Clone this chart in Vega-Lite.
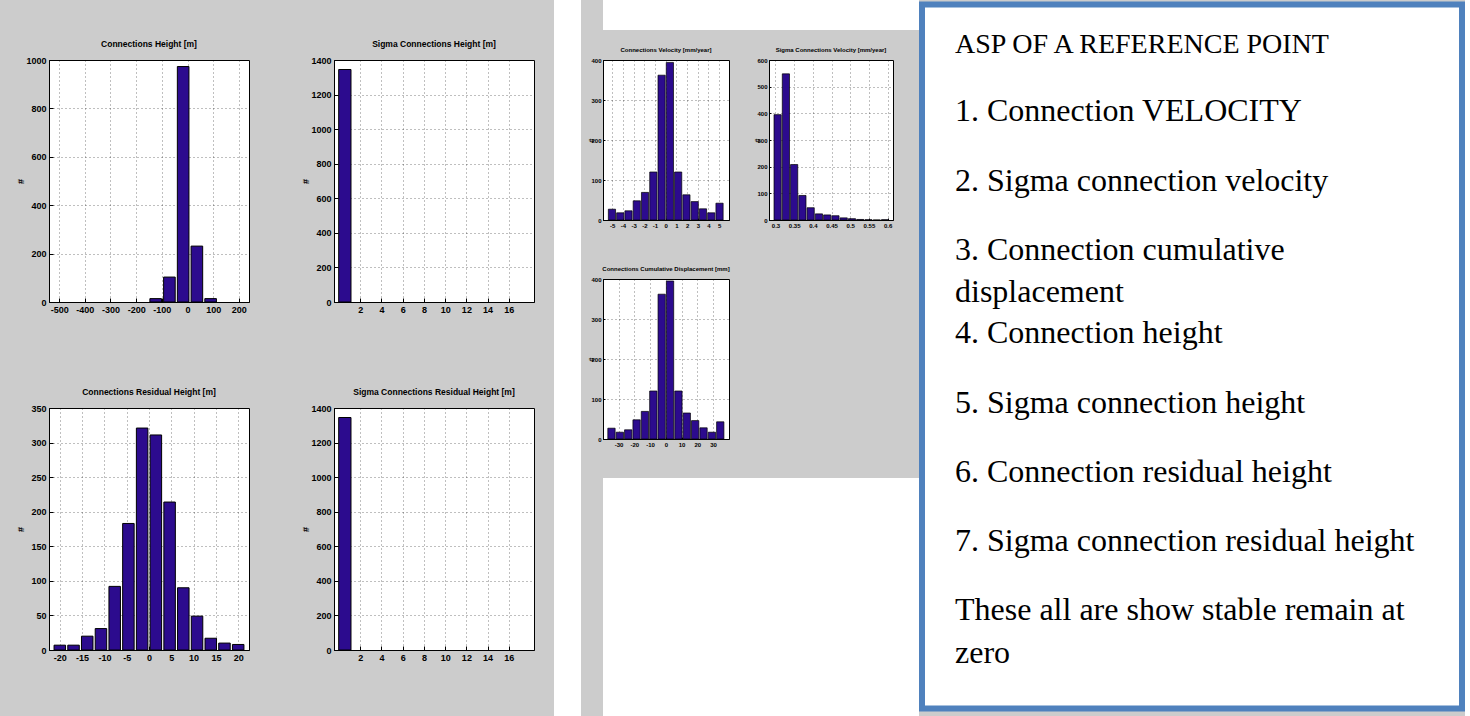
{
  "$schema": "https://vega.github.io/schema/vega-lite/v6.json",
  "background": "#cccccc",
  "padding": {"left": 15, "top": 0, "right": 0, "bottom": 0},
  "config": {
    "locale": {"number": {"decimal": ".", "thousands": ",", "grouping": [3], "currency": ["$", ""], "minus": "-"}},
    "view": {"fill": "white", "stroke": "black", "strokeWidth": 1},
    "axis": {
      "labelFont": "Liberation Sans", "labelFontWeight": "bold", "labelFontSize": 9, "labelColor": "black",
      "titleFont": "Liberation Sans", "titleFontWeight": "bold", "titleFontSize": 9, "titleColor": "black",
      "domainColor": "black", "tickColor": "black", "tickSize": -4, "labelPadding": 7,
      "grid": true, "gridColor": "black", "gridOpacity": 0.5, "gridDash": [1, 3],
      "labelFlush": false, "labelOverlap": false, "titlePadding": 2, "minExtent": 22, "maxExtent": 22
    },
    "title": {
      "font": "Liberation Sans", "fontWeight": "bold", "fontSize": 8.5, "color": "black", "offset": 8, "frame": "group", "anchor": "middle"
    }
  },
  "datasets": {
    "ch": [
      {"c": -124, "n": 14}, {"c": -70.5, "n": 103}, {"c": -17, "n": 973}, {"c": 36.5, "n": 231}, {"c": 90, "n": 14}
    ],
    "sch": [{"c": 0.55, "n": 1345}],
    "crh": [
      {"c": -20, "n": 7}, {"c": -16.92, "n": 7}, {"c": -13.85, "n": 20}, {"c": -10.77, "n": 31},
      {"c": -7.69, "n": 92}, {"c": -4.62, "n": 183}, {"c": -1.54, "n": 321}, {"c": 1.54, "n": 311},
      {"c": 4.62, "n": 214}, {"c": 7.69, "n": 90}, {"c": 10.77, "n": 49}, {"c": 13.85, "n": 17},
      {"c": 16.92, "n": 10}, {"c": 20, "n": 8}
    ],
    "scrh": [{"c": 0.55, "n": 1345}],
    "cv": [
      {"c": -5.03, "n": 27}, {"c": -4.256, "n": 18}, {"c": -3.482, "n": 23}, {"c": -2.708, "n": 48},
      {"c": -1.934, "n": 69}, {"c": -1.16, "n": 120}, {"c": -0.386, "n": 362}, {"c": 0.388, "n": 394},
      {"c": 1.162, "n": 120}, {"c": 1.936, "n": 63}, {"c": 2.71, "n": 46}, {"c": 3.484, "n": 28},
      {"c": 4.258, "n": 18}, {"c": 5.032, "n": 42}
    ],
    "scv": [
      {"c": 0.3057, "n": 395}, {"c": 0.3278, "n": 548}, {"c": 0.3499, "n": 208}, {"c": 0.372, "n": 92},
      {"c": 0.3941, "n": 46}, {"c": 0.4162, "n": 23}, {"c": 0.4383, "n": 19}, {"c": 0.4604, "n": 16},
      {"c": 0.4825, "n": 8}, {"c": 0.5046, "n": 5}, {"c": 0.5267, "n": 2}, {"c": 0.5488, "n": 1},
      {"c": 0.5709, "n": 0}, {"c": 0.593, "n": 1}
    ],
    "ccd": [
      {"c": -34.5, "n": 27}, {"c": -29.19, "n": 17}, {"c": -23.88, "n": 23}, {"c": -18.57, "n": 48},
      {"c": -13.26, "n": 69}, {"c": -7.95, "n": 120}, {"c": -2.64, "n": 362}, {"c": 2.67, "n": 395},
      {"c": 7.98, "n": 120}, {"c": 13.29, "n": 65}, {"c": 18.6, "n": 46}, {"c": 23.91, "n": 28},
      {"c": 29.22, "n": 17}, {"c": 34.53, "n": 43}
    ],
    "notes": [
      {"line": 0, "text": "ASP OF A REFERENCE POINT"},
      {"line": 0.952, "text": "1. Connection VELOCITY"},
      {"line": 1.962, "text": "2. Sigma connection velocity"},
      {"line": 2.958, "text": "3. Connection cumulative"},
      {"line": 3.564, "text": "displacement"},
      {"line": 4.156, "text": "4. Connection height"},
      {"line": 5.166, "text": "5. Sigma connection height"},
      {"line": 6.162, "text": "6. Connection residual height"},
      {"line": 7.157, "text": "7. Sigma connection residual height"},
      {"line": 8.153, "text": "These all are show stable remain at"},
      {"line": 8.773, "text": "zero"}
    ]
  },
  "spacing": 0,
  "center": true,
  "hconcat": [
    {
      "spacing": 5,
      "center": false,
      "hconcat": [
        {
          "spacing": 19,
          "center": false,
          "hconcat": [
            {
              "spacing": 0,
              "vconcat": [
                {"data": {"values": []}, "mark": "point", "width": 1, "height": 39, "view": {"fill": null, "stroke": null}},
                {
                  "spacing": 62,
                  "vconcat": [
                    {
                      "spacing": 50,
                      "hconcat": [
                        {
                          "width": 200, "height": 242,
                          "title": "Connections Height [m]",
                          "data": {"name": "ch"},
                          "mark": {"type": "bar", "width": 11.6, "fill": "#2c0b8e", "stroke": "black", "strokeWidth": 1},
                          "encoding": {
                            "x": {"field": "c", "type": "quantitative", "scale": {"domain": [-520, 220], "nice": false, "zero": false},
                                  "axis": {"values": [-500, -400, -300, -200, -100, 0, 100, 200], "format": "d", "title": null}},
                            "y": {"field": "n", "type": "quantitative", "scale": {"domain": [0, 1000], "nice": false},
                                  "axis": {"values": [0, 200, 400, 600, 800, 1000], "format": "d", "title": "#"}}
                          }
                        },
                        {
                          "width": 200, "height": 242,
                          "title": "Sigma Connections Height [m]",
                          "data": {"name": "sch"},
                          "mark": {"type": "bar", "width": 12.3, "fill": "#2c0b8e", "stroke": "black", "strokeWidth": 1},
                          "encoding": {
                            "x": {"field": "c", "type": "quantitative", "scale": {"domain": [0, 17.9], "nice": false, "zero": false},
                                  "axis": {"values": [2, 4, 6, 8, 10, 12, 14, 16], "format": "d", "title": null}},
                            "y": {"field": "n", "type": "quantitative", "scale": {"domain": [0, 1400], "nice": false},
                                  "axis": {"values": [0, 200, 400, 600, 800, 1000, 1200, 1400], "format": "d", "title": "#"}}
                          }
                        }
                      ]
                    },
                    {
                      "spacing": 50,
                      "hconcat": [
                        {
                          "width": 200, "height": 242,
                          "title": "Connections Residual Height [m]",
                          "data": {"name": "crh"},
                          "mark": {"type": "bar", "width": 11.5, "fill": "#2c0b8e", "stroke": "black", "strokeWidth": 1},
                          "encoding": {
                            "x": {"field": "c", "type": "quantitative", "scale": {"domain": [-21.3, 21.3], "nice": false, "zero": false},
                                  "axis": {"values": [-20, -15, -10, -5, 0, 5, 10, 15, 20], "format": "d", "title": null}},
                            "y": {"field": "n", "type": "quantitative", "scale": {"domain": [0, 350], "nice": false},
                                  "axis": {"values": [0, 50, 100, 150, 200, 250, 300, 350], "format": "d", "title": "#"}}
                          }
                        },
                        {
                          "width": 200, "height": 242,
                          "title": "Sigma Connections Residual Height [m]",
                          "data": {"name": "scrh"},
                          "mark": {"type": "bar", "width": 12.3, "fill": "#2c0b8e", "stroke": "black", "strokeWidth": 1},
                          "encoding": {
                            "x": {"field": "c", "type": "quantitative", "scale": {"domain": [0, 17.9], "nice": false, "zero": false},
                                  "axis": {"values": [2, 4, 6, 8, 10, 12, 14, 16], "format": "d", "title": null}},
                            "y": {"field": "n", "type": "quantitative", "scale": {"domain": [0, 1400], "nice": false},
                                  "axis": {"values": [0, 200, 400, 600, 800, 1000, 1200, 1400], "format": "d", "title": "#"}}
                          }
                        }
                      ]
                    }
                  ]
                }
              ]
            },
            {"data": {"values": []}, "mark": "point", "width": 27, "height": 716, "view": {"fill": "white", "stroke": null}}
          ]
        },
        {
          "spacing": 16,
          "vconcat": [
            {"data": {"values": []}, "mark": "point", "width": 316, "height": 30, "view": {"fill": "white", "stroke": null}},
            {
              "spacing": 22,
              "vconcat": [
                {
                  "spacing": 22,
                  "hconcat": [
                    {
                      "width": 126, "height": 160,
                      "title": {"text": "Connections Velocity [mm/year]", "fontSize": 6, "offset": 4},
                      "data": {"name": "cv"},
                      "mark": {"type": "bar", "width": 7.2, "fill": "#2c0b8e", "stroke": "black", "strokeWidth": 0.7},
                      "encoding": {
                        "x": {"field": "c", "type": "quantitative", "scale": {"domain": [-5.4, 5.45], "nice": false, "zero": false},
                              "axis": {"values": [-5, -4, -3, -2, -1, 0, 1, 2, 3, 4, 5], "format": "d", "title": null, "labelFontSize": 6, "tickSize": -2, "labelPadding": 4}},
                        "y": {"field": "n", "type": "quantitative", "scale": {"domain": [0, 400], "nice": false},
                              "axis": {"values": [0, 100, 200, 300, 400], "format": "d", "title": "#", "labelFontSize": 6, "tickSize": -2, "labelPadding": 4, "titleFontSize": 7, "titlePadding": 0, "minExtent": 9, "maxExtent": 9}}
                      }
                    },
                    {
                      "width": 124, "height": 160,
                      "title": {"text": "Sigma Connections Velocity [mm/year]", "fontSize": 6, "offset": 4},
                      "data": {"name": "scv"},
                      "mark": {"type": "bar", "width": 7.2, "fill": "#2c0b8e", "stroke": "black", "strokeWidth": 0.7},
                      "encoding": {
                        "x": {"field": "c", "type": "quantitative", "scale": {"domain": [0.296, 0.601], "nice": false, "zero": false},
                              "axis": {"values": [0.3, 0.35, 0.4, 0.45, 0.5, 0.55, 0.6], "format": "~g", "title": null, "labelFontSize": 6, "tickSize": -2, "labelPadding": 4}},
                        "y": {"field": "n", "type": "quantitative", "scale": {"domain": [0, 600], "nice": false},
                              "axis": {"values": [0, 100, 200, 300, 400, 500, 600], "format": "d", "title": "#", "labelFontSize": 6, "tickSize": -2, "labelPadding": 4, "titleFontSize": 7, "titlePadding": 0, "minExtent": 9, "maxExtent": 9}}
                      }
                    }
                  ]
                },
                {
                  "width": 126, "height": 160,
                  "title": {"text": "Connections Cumulative Displacement [mm]", "fontSize": 6, "offset": 4},
                  "data": {"name": "ccd"},
                  "mark": {"type": "bar", "width": 7.3, "fill": "#2c0b8e", "stroke": "black", "strokeWidth": 0.7},
                  "encoding": {
                    "x": {"field": "c", "type": "quantitative", "scale": {"domain": [-36.7, 36.9], "nice": false, "zero": false},
                          "axis": {"values": [-30, -20, -10, 0, 10, 20, 30], "format": "d", "title": null, "labelFontSize": 6, "tickSize": -2, "labelPadding": 4}},
                    "y": {"field": "n", "type": "quantitative", "scale": {"domain": [0, 400], "nice": false},
                          "axis": {"values": [0, 100, 200, 300, 400], "format": "d", "title": "#", "labelFontSize": 6, "tickSize": -2, "labelPadding": 4, "titleFontSize": 7, "titlePadding": 0, "minExtent": 9, "maxExtent": 9}}
                  }
                }
              ]
            },
            {"data": {"values": []}, "mark": "point", "width": 316, "height": 238, "view": {"fill": "white", "stroke": null}}
          ]
        }
      ]
    },
    {
      "width": 540, "height": 704,
      "view": {"fill": "white", "stroke": "#4f81bd", "strokeWidth": 6},
      "data": {"name": "notes"},
      "mark": {"type": "text", "align": "left", "baseline": "middle", "font": "Liberation Serif", "color": "black"},
      "encoding": {
        "y": {"field": "line", "type": "quantitative", "scale": {"domain": [-0.58, 9.58], "reverse": true, "nice": false, "zero": false}, "axis": null},
        "x": {"value": 33},
        "text": {"field": "text"},
        "size": {"condition": {"test": "datum.line == 0", "value": 28}, "value": 32}
      }
    }
  ]
}
